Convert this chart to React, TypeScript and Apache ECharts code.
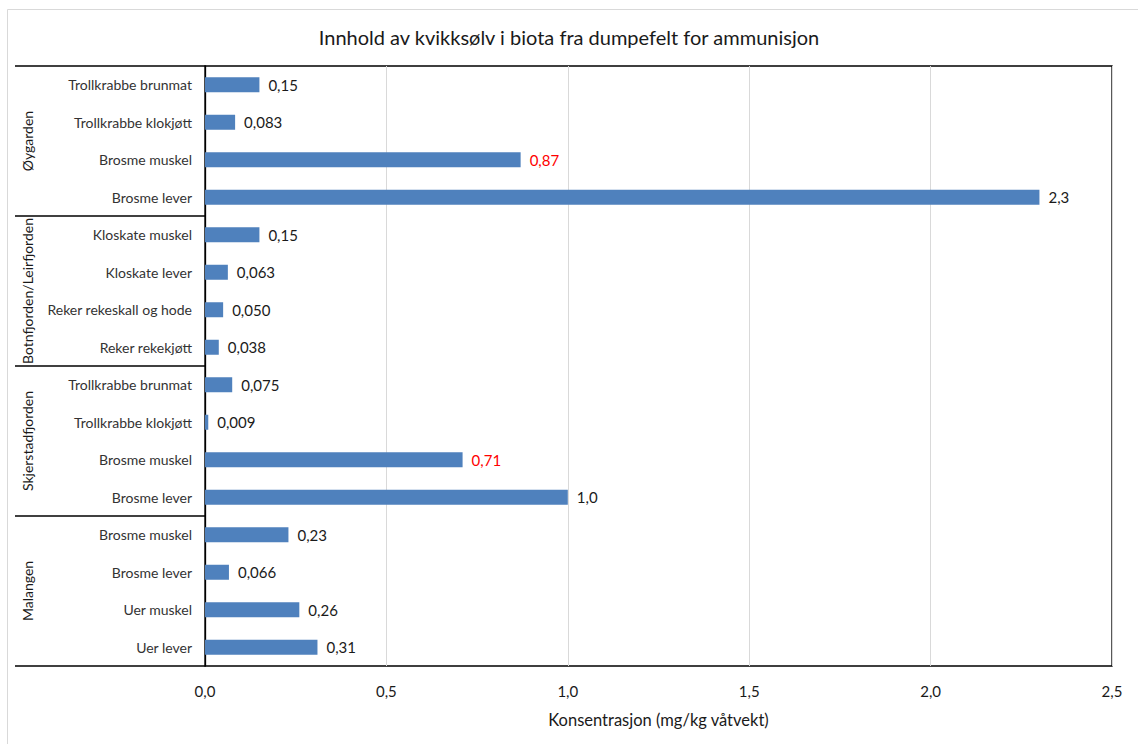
import React, { useEffect, useRef } from "react";
import * as echarts from "echarts";

const title = "Innhold av kvikksølv i biota fra dumpefelt for ammunisjon";
const xAxisName = "Konsentrasjon (mg/kg våtvekt)";

// Top-to-bottom order
const categories = [
  "Trollkrabbe brunmat",
  "Trollkrabbe klokjøtt",
  "Brosme muskel",
  "Brosme lever",
  "Kloskate muskel",
  "Kloskate lever",
  "Reker rekeskall og hode",
  "Reker rekekjøtt",
  "Trollkrabbe brunmat",
  "Trollkrabbe klokjøtt",
  "Brosme muskel",
  "Brosme lever",
  "Brosme muskel",
  "Brosme lever",
  "Uer muskel",
  "Uer lever",
];
const values = [0.15, 0.083, 0.87, 2.3, 0.15, 0.063, 0.05, 0.038, 0.075, 0.009, 0.71, 1.0, 0.23, 0.066, 0.26, 0.31];
const valueLabels = ["0,15", "0,083", "0,87", "2,3", "0,15", "0,063", "0,050", "0,038", "0,075", "0,009", "0,71", "1,0", "0,23", "0,066", "0,26", "0,31"];
const groupNames = ["Øygarden", "Botnfjorden/Leirfjorden", "Skjerstadfjorden", "Malangen"];
const groupSizes = [4, 4, 4, 4];
const xTicks = [0, 0.5, 1.0, 1.5, 2.0, 2.5];
const redLabelIndices = [2, 10];

const FONT = "Lato, 'Liberation Sans', sans-serif";

export default function App() {
  const ref = useRef<HTMLDivElement>(null);
  useEffect(() => {
    if (!ref.current) return;
    const chart = echarts.init(ref.current, undefined, { renderer: "svg" });
    const gridLeft = 205;
    const gridRight = 26;
    const gridTop = 66;
    const gridBottom = 78;
    const option: any = {
      animation: false,
      backgroundColor: "#fff",
      textStyle: { fontFamily: FONT },
      title: {
        text: title,
        left: "center",
        top: 22,
        textStyle: { fontFamily: FONT, fontSize: 20, fontWeight: "normal", color: "#1a1a1a" },
      },
      grid: {
        left: gridLeft,
        right: gridRight,
        top: gridTop,
        bottom: gridBottom,
        show: true,
        borderColor: "#000",
        borderWidth: 1.3,
        containLabel: false,
      },
      xAxis: {
        type: "value",
        min: xTicks[0],
        max: xTicks[xTicks.length - 1],
        interval: 0.5,
        axisLine: { show: false },
        axisTick: { show: false },
        splitLine: { lineStyle: { color: "#d9d9d9", width: 1 } },
        axisLabel: {
          margin: 17,
          fontFamily: FONT,
          fontSize: 15,
          color: "#1a1a1a",
          formatter: (v: number) => v.toFixed(1).replace(".", ","),
        },
        name: xAxisName,
        nameLocation: "middle",
        nameGap: 45,
        nameTextStyle: { fontFamily: FONT, fontSize: 16.5, color: "#1a1a1a" },
      },
      yAxis: {
        type: "category",
        inverse: true,
        data: categories.map((_, i) => String(i)),
        axisLine: { show: true, lineStyle: { color: "#000", width: 1.3 } },
        axisTick: { show: false },
        splitLine: { show: false },
        axisLabel: {
          margin: 13,
          fontFamily: FONT,
          fontSize: 14,
          color: "#333",
          formatter: (v: string) => categories[Number(v)],
        },
      },
      series: [
        {
          type: "bar",
          barWidth: 15,
          itemStyle: { color: "#4f81bd" },
          data: values.map((v, i) => ({
            value: v,
            label: {
              show: true,
              position: "right",
              distance: 9,
              fontFamily: FONT,
              fontSize: 15,
              color: redLabelIndices.includes(i) ? "#ff0000" : "#1a1a1a",
              formatter: () => valueLabels[i],
            },
          })),
        },
      ],
    };
    chart.setOption(option);

    // Group separators and rotated group labels
    const graphics: any[] = [];
    const centerY = (i: number) => chart.convertToPixel({ yAxisIndex: 0 }, String(i)) as number;
    const rowH = centerY(1) - centerY(0);
    const xLeft = 15;
    let start = 0;
    const boundary = (i: number) => centerY(0) + (i - 0.5) * rowH;
    graphics.push({
      type: "line",
      shape: { x1: xLeft, y1: boundary(0), x2: gridLeft, y2: boundary(0) },
      style: { stroke: "#000", lineWidth: 1.3 },
    });
    groupNames.forEach((name, g) => {
      const end = start + groupSizes[g];
      const y1 = boundary(start);
      const y2 = boundary(end);
      graphics.push({
        type: "line",
        shape: { x1: xLeft, y1: y2, x2: gridLeft, y2: y2 },
        style: { stroke: "#000", lineWidth: 1.3 },
      });
      graphics.push({
        type: "text",
        x: 27,
        y: (y1 + y2) / 2,
        rotation: Math.PI / 2,
        style: {
          text: name,
          fontFamily: FONT,
          fontSize: 14,
          fill: "#1a1a1a",
          align: "center",
          verticalAlign: "middle",
        },
      });
      start = end;
    });
    graphics.push({
      type: "rect",
      shape: { x: 7.5, y: 9.5, width: 1140, height: 740 },
      style: { fill: "none", stroke: "#d9d9d9", lineWidth: 1 },
      silent: true,
    });
    chart.setOption({ graphic: graphics });
    return () => chart.dispose();
  }, []);
  return (
    <div
      ref={ref}
      style={{ position: "fixed", left: 0, top: 0, width: 1138, height: 744 }}
    />
  );
}
